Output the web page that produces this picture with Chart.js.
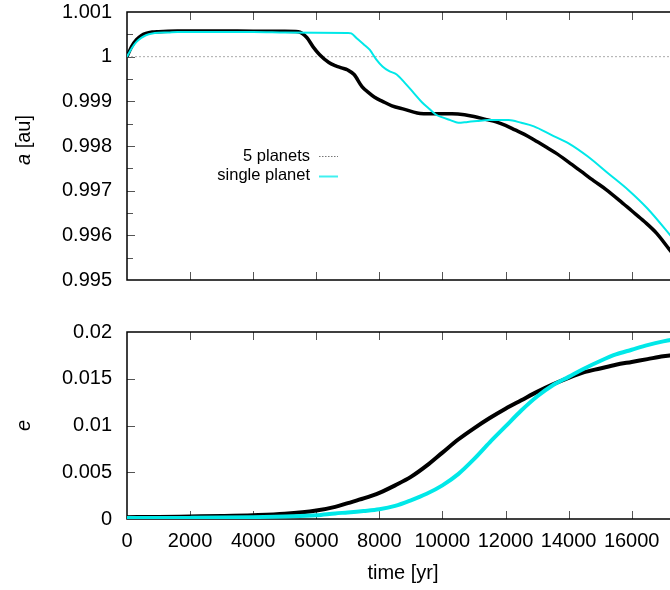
<!DOCTYPE html>
<html>
<head>
<meta charset="utf-8">
<script src="https://cdn.jsdelivr.net/npm/chart.js@4/dist/chart.umd.min.js"></script>
<style>
  html, body { margin: 0; padding: 0; background: #fff; overflow: hidden; }
  #wrap { position: relative; width: 670px; height: 590px; overflow: hidden; }
  canvas { position: absolute; left: 0; }
  #topChart { top: -15px; }
  #bottomChart { top: 300px; }
</style>
</head>
<body>
<div id="wrap">
  <canvas id="topChart" width="700" height="322"></canvas>
  <canvas id="bottomChart" width="700" height="290"></canvas>
</div>
<script>
// series names
const seriesLabels = ['5 planets', 'single planet'];

// tick values
const timeTicks = [0, 2000, 4000, 6000, 8000, 10000, 12000, 14000, 16000];
const aTicks = [0.995, 0.9955, 0.996, 0.9965, 0.997, 0.9975, 0.998, 0.9985, 0.999, 0.9995, 1.0, 1.0005, 1.001];
const eTicks = [0, 0.005, 0.01, 0.015, 0.02];

// semi-major axis, 5 planets
const timeA5 = [0, 150, 300, 450, 600, 800, 1000, 1300, 1600, 2000, 3000, 4000, 5000, 5430, 5700, 5900,
  6100, 6400, 6600, 6800, 7000, 7200, 7450, 7650, 7850, 8100, 8400, 8800, 9200, 9700, 10300, 10700,
  11000, 11400, 11700, 12000, 12300, 12600, 12900, 13300, 13600, 14000, 14400, 14800, 15200, 15600,
  16000, 16400, 16800, 17200, 17500];
const a5 = [1.0, 1.00023, 1.00038, 1.00047, 1.00052, 1.00055, 1.00056, 1.00057, 1.000575, 1.000575,
  1.000575, 1.00057, 1.00057, 1.00056, 1.00043, 1.00022, 1.00005, 0.99987, 0.9998, 0.99975, 0.9997,
  0.9996, 0.99933, 0.9992, 0.99909, 0.999, 0.9989, 0.99882, 0.99874, 0.99872, 0.99872, 0.9987,
  0.99866, 0.99859, 0.99854, 0.99846, 0.99836, 0.99826, 0.99814, 0.99797, 0.99784, 0.99764, 0.99743,
  0.99722, 0.99702, 0.99679, 0.99655, 0.99631, 0.99604, 0.99568, 0.99542];

// semi-major axis, single planet
const timeA1 = [0, 150, 300, 450, 600, 800, 1000, 1300, 1600, 2000, 3000, 4000, 5000, 6000, 7000, 7110,
  7300, 7500, 7700, 7900, 8100, 8300, 8550, 8800, 9100, 9350, 9600, 9800, 10000, 10250, 10500, 10800,
  11100, 11450, 11800, 12100, 12500, 12900, 13450, 14000, 14600, 15250, 15900, 16500, 17200, 17500];
const a1 = [1.0, 1.00019, 1.00033, 1.00042, 1.00048, 1.00052, 1.000535, 1.00054, 1.00055, 1.00055,
  1.00055, 1.00055, 1.00054, 1.000535, 1.00053, 1.00052, 1.0004, 1.00028, 1.00015, 0.99994, 0.99978,
  0.99968, 0.9996, 0.99942, 0.99918, 0.99898, 0.99882, 0.9987, 0.99864, 0.99858, 0.99852, 0.99854,
  0.99856, 0.99858, 0.99858, 0.99858, 0.99852, 0.99844, 0.99825, 0.99806, 0.99777, 0.99739, 0.99701,
  0.9966, 0.99602, 0.99576];

// eccentricity
const timeE = [0, 1000, 2000, 3000, 4000, 5000, 6000, 6600, 7000, 7500, 8000, 8500, 9000, 9500, 10000,
  10500, 11000, 11500, 12000, 12500, 13000, 13500, 14000, 14500, 15000, 15500, 16000, 16500, 17000, 17500];
const e5 = [0.0002, 0.00022, 0.00027, 0.00032, 0.0004, 0.00055, 0.0009, 0.0013, 0.0017, 0.0022, 0.0028,
  0.0036, 0.0045, 0.0057, 0.0071, 0.0085, 0.0097, 0.0108, 0.0118, 0.0127, 0.0136, 0.0144, 0.0151,
  0.0157, 0.0161, 0.0165, 0.0168, 0.0171, 0.0174, 0.0176];
const e1 = [0.0001, 0.0001, 0.00012, 0.00015, 0.0002, 0.00028, 0.0004, 0.0006, 0.0007, 0.00085, 0.00104,
  0.0014, 0.002, 0.0027, 0.0036, 0.0048, 0.0064, 0.0082, 0.0099, 0.0116, 0.0131, 0.0143, 0.0152,
  0.0161, 0.0169, 0.0176, 0.0181, 0.0186, 0.019, 0.0193];

const FONT = 'Liberation Sans, Arial, Helvetica, sans-serif';

function toPoints(xs, ys) {
  return xs.map((x, i) => ({ x: x, y: ys[i] }));
}

function isMultiple(v, step) {
  const r = v / step;
  return Math.abs(r - Math.round(r)) < 1e-6;
}

// border box plus inward tick marks, gnuplot style
const frameTicks = {
  id: 'frameTicks',
  beforeDatasetsDraw(chart, args, opts) {
    const { ctx, chartArea: a } = chart;
    const x = chart.scales.x, y = chart.scales.y;
    ctx.save();
    ctx.strokeStyle = '#555';
    ctx.lineWidth = 1;
    ctx.beginPath();
    x.ticks.forEach(t => {
      const px = Math.round(x.getPixelForValue(t.value)) + 0.5;
      if (px <= a.left + 2 || px >= a.right - 2) return;
      ctx.moveTo(px, a.bottom); ctx.lineTo(px, a.bottom - opts.len);
      ctx.moveTo(px, a.top); ctx.lineTo(px, a.top + opts.len);
    });
    y.ticks.forEach(t => {
      const py = Math.round(y.getPixelForValue(t.value)) + 0.5;
      if (py <= a.top + 2 || py >= a.bottom - 2) return;
      const len = isMultiple(t.value, opts.majorStep) ? opts.len : opts.minorLen;
      ctx.moveTo(a.left, py); ctx.lineTo(a.left + len, py);
      ctx.moveTo(a.right, py); ctx.lineTo(a.right - len, py);
    });
    ctx.stroke();
    ctx.strokeStyle = '#000';
    ctx.lineWidth = 1.5;
    ctx.strokeRect(a.left, a.top, a.right - a.left, a.bottom - a.top);
    ctx.restore();
  }
};

// axis titles with an italic symbol
const axisTitles = {
  id: 'axisTitles',
  afterDraw(chart, args, opts) {
    const { ctx, chartArea: a } = chart;
    ctx.save();
    ctx.fillStyle = '#000';
    ctx.textBaseline = 'middle';
    if (opts.y) {
      const parts = opts.y;
      ctx.translate(opts.yX, (a.top + a.bottom) / 2 + opts.yShift);
      ctx.rotate(-Math.PI / 2);
      let w = 0;
      parts.forEach(p => {
        ctx.font = (p.italic ? 'italic ' : '') + '20px ' + FONT;
        w += ctx.measureText(p.text).width;
      });
      let cx = -w / 2;
      ctx.textAlign = 'left';
      parts.forEach(p => {
        ctx.font = (p.italic ? 'italic ' : '') + '20px ' + FONT;
        ctx.fillText(p.text, cx, 0);
        cx += ctx.measureText(p.text).width;
      });
      ctx.setTransform(1, 0, 0, 1, 0, 0);
    }
    if (opts.x) {
      ctx.font = '20px ' + FONT;
      ctx.textAlign = 'center';
      ctx.fillText(opts.x, (a.left + a.right) / 2, opts.xY);
    }
    ctx.restore();
  }
};

// key inside the upper panel
const keyBox = {
  id: 'keyBox',
  afterDatasetsDraw(chart, args, opts) {
    if (!opts.show) return;
    const { ctx } = chart;
    ctx.save();
    ctx.font = '16.5px ' + FONT;
    ctx.textAlign = 'right';
    ctx.textBaseline = 'middle';
    const items = chart.data.datasets.filter(d => d.keySample)
      .sort((p, q) => p.keySample.rank - q.keySample.rank);
    items.forEach((d, i) => {
      const y = opts.top + i * opts.row;
      ctx.fillStyle = '#000';
      ctx.fillText(d.label, opts.textRight, y);
      ctx.strokeStyle = d.keySample.color;
      ctx.lineWidth = d.keySample.width;
      ctx.setLineDash(d.keySample.dash);
      ctx.beginPath();
      ctx.moveTo(opts.lineFrom, Math.round(y) + 0.5);
      ctx.lineTo(opts.lineTo, Math.round(y) + 0.5);
      ctx.stroke();
    });
    ctx.restore();
  }
};

function makeOptions(cfg) {
  return {
    responsive: false,
    animation: false,
    devicePixelRatio: 1,
    events: [],
    layout: { padding: { top: cfg.padTop, right: 21, left: 0, bottom: 0 } },
    scales: {
      x: {
        type: 'linear',
        min: 0,
        max: 17500,
        afterBuildTicks: s => { s.ticks = timeTicks.map(v => ({ value: v })); },
        afterFit: s => { s.height = cfg.xHeight; },
        grid: { display: false, drawTicks: false },
        border: { display: false },
        ticks: {
          display: cfg.xLabels,
          padding: cfg.xPad,
          color: '#000',
          font: { family: FONT, size: 20 },
          maxRotation: 0,
          autoSkip: false,
          callback: v => String(v)
        }
      },
      y: {
        type: 'linear',
        min: cfg.yMin,
        max: cfg.yMax,
        afterBuildTicks: s => { s.ticks = cfg.yTicks.map(v => ({ value: v })); },
        afterFit: s => { s.width = 127; },
        grid: { display: false, drawTicks: false },
        border: { display: false },
        ticks: {
          padding: 15,
          color: '#000',
          font: { family: FONT, size: 20 },
          autoSkip: false,
          callback: v => isMultiple(v, cfg.labelStep) ? String(Number(v.toFixed(3))) : ''
        }
      }
    },
    plugins: {
      legend: { display: false },
      tooltip: { enabled: false },
      frameTicks: { len: 8, minorLen: 6, majorStep: cfg.labelStep },
      axisTitles: cfg.titles,
      keyBox: cfg.key
    }
  };
}

// upper panel: semi-major axis (canvas sits 15px above the page top)
new Chart(document.getElementById('topChart'), {
  type: 'line',
  data: {
    datasets: [
      {
        label: seriesLabels[1],
        data: toPoints(timeA1, a1),
        borderColor: '#00e8e8',
        borderWidth: 2,
        pointRadius: 0,
        cubicInterpolationMode: 'monotone',
        order: 0,
        keySample: { rank: 1, color: '#40f0f0', width: 2, dash: [] }
      },
      {
        label: seriesLabels[0],
        data: toPoints(timeA5, a5),
        borderColor: '#000',
        borderWidth: 3.5,
        pointRadius: 0,
        cubicInterpolationMode: 'monotone',
        order: 1,
        keySample: { rank: 0, color: '#777', width: 1, dash: [1.5, 1.5] }
      },
      {
        label: 'a = 1',
        data: [{ x: 0, y: 1 }, { x: 17500, y: 1 }],
        borderColor: '#aaa',
        borderWidth: 1,
        borderDash: [2, 2],
        pointRadius: 0,
        order: 2
      }
    ]
  },
  options: makeOptions({
    padTop: 27, xHeight: 27, xLabels: false, xPad: 0,
    yMin: 0.995, yMax: 1.001, yTicks: aTicks, labelStep: 0.001,
    titles: { y: [{ text: 'a', italic: true }, { text: ' [au]' }], yX: 24, yShift: -6 },
    key: { show: true, top: 171, row: 19.5, textRight: 310, lineFrom: 319, lineTo: 338 }
  }),
  plugins: [frameTicks, axisTitles, keyBox]
});

// lower panel: eccentricity
new Chart(document.getElementById('bottomChart'), {
  type: 'line',
  data: {
    datasets: [
      {
        label: seriesLabels[1],
        data: toPoints(timeE, e1),
        borderColor: '#00e8e8',
        borderWidth: 4,
        pointRadius: 0,
        cubicInterpolationMode: 'monotone',
        order: 0
      },
      {
        label: seriesLabels[0],
        data: toPoints(timeE, e5),
        borderColor: '#000',
        borderWidth: 4,
        pointRadius: 0,
        cubicInterpolationMode: 'monotone',
        order: 1
      }
    ]
  },
  options: makeOptions({
    padTop: 32, xHeight: 71, xLabels: true, xPad: 10,
    yMin: 0, yMax: 0.02, yTicks: eTicks, labelStep: 0.005,
    titles: { y: [{ text: 'e', italic: true }], yX: 24, yShift: 0, x: 'time [yr]', xY: 273 },
    key: { show: false }
  }),
  plugins: [frameTicks, axisTitles, keyBox]
});
</script>
</body>
</html>
